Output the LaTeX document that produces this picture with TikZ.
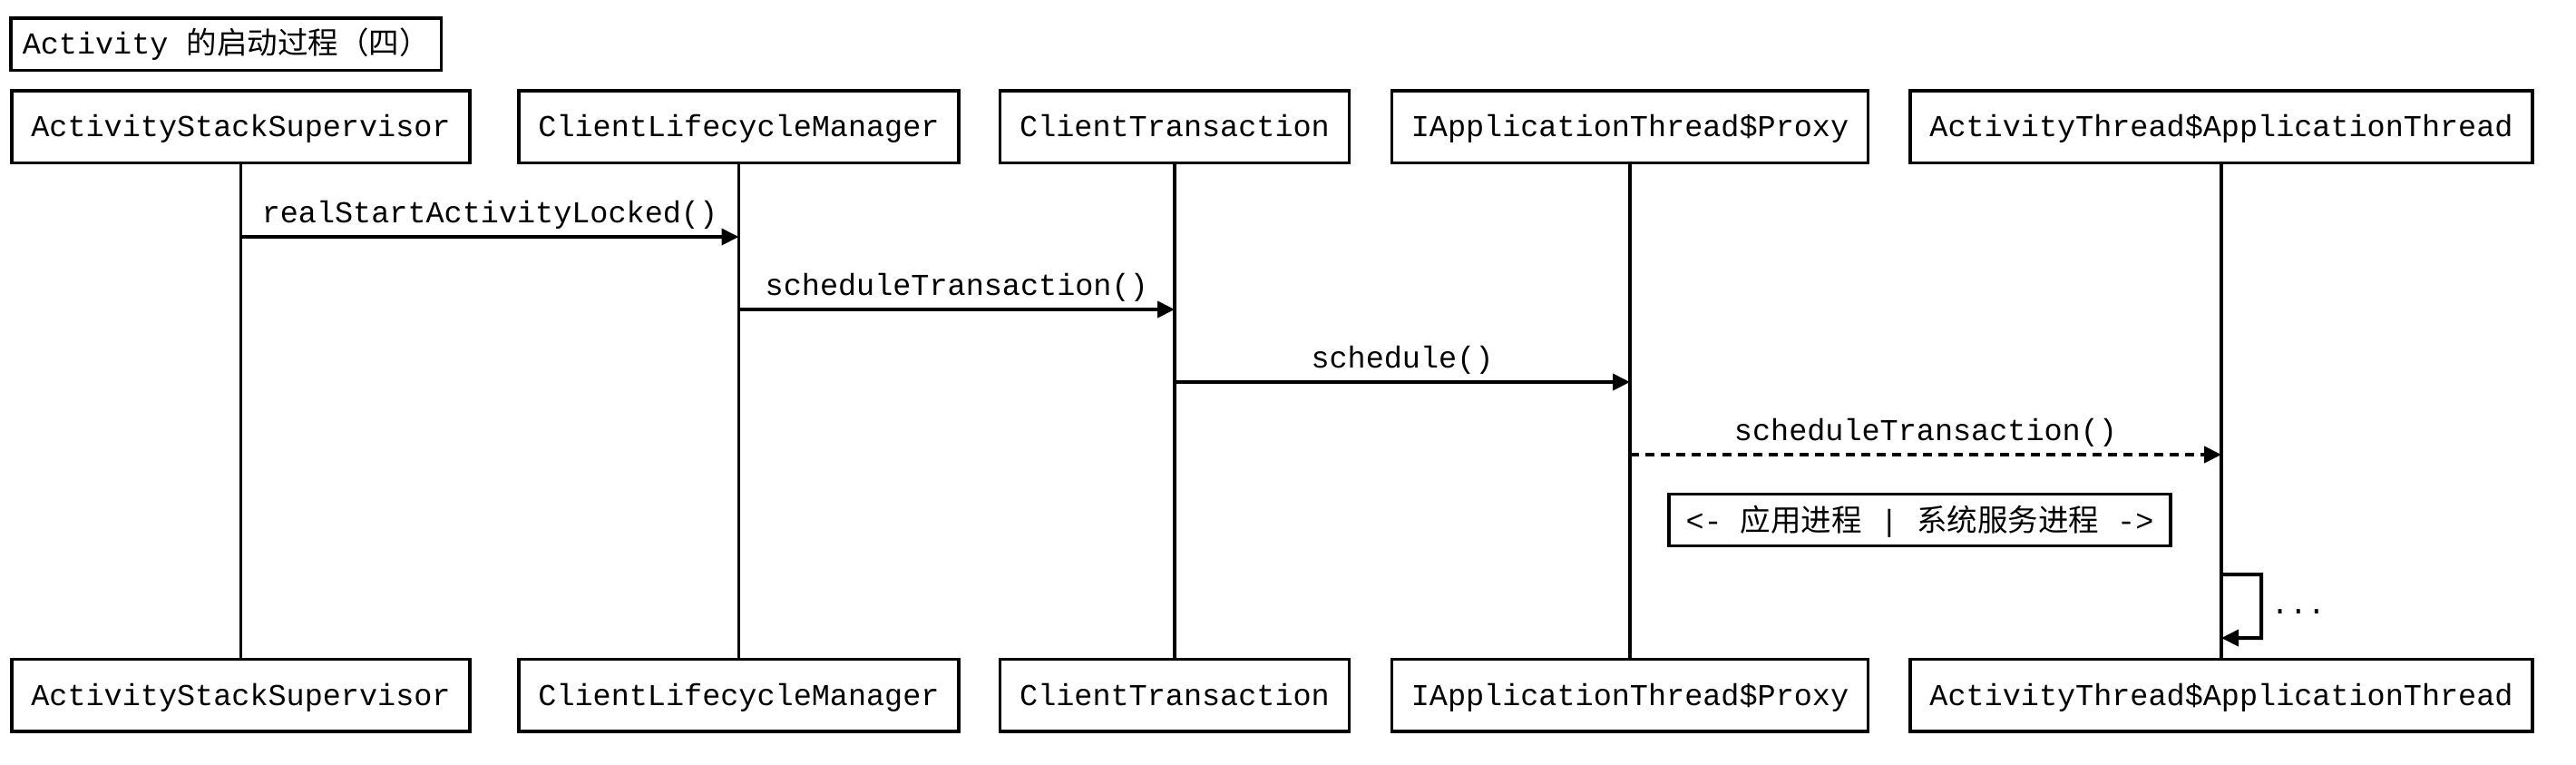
\documentclass[tikz,border=0pt]{standalone}
\usepackage{fontspec}
\setmainfont{Liberation Mono}
\newfontfamily\cjk{Noto Sans CJK SC}
\usetikzlibrary{arrows.meta}
\tikzset{actor/.style={draw, line width=0.035cm, minimum height=0.795cm, inner xsep=0.215cm, text height=6.3pt, text depth=0pt},
  lifeline/.style={line width=0.032cm},
  msg/.style={line width=0.04cm, -{Triangle[length=0.19cm, width=0.18cm]}},
  reply/.style={msg, dash pattern=on 0.1cm off 0.07cm}}

\begin{document}
\begin{tikzpicture}[font=\fontsize{9.53pt}{11pt}\selectfont]
      \useasboundingbox (0, 0) rectangle (28.4, -8.42);

      \node [draw, line width=0.035cm, minimum height=0.575cm, inner xsep=0.13cm, text height=6.3pt, text depth=0pt, anchor=west] (title) at (0.10, -0.485) {Activity {\cjk 的启动过程（四）}};

      % actors, top row
      \node [actor] (sup) at (2.655, -1.395) {ActivityStackSupervisor};
      \node [actor] (clm) at (8.145, -1.395) {ClientLifecycleManager};
      \node [actor] (ctr) at (12.95, -1.395) {ClientTransaction};
      \node [actor] (prx) at (17.97, -1.395) {IApplicationThread\$Proxy};
      \node [actor] (ath) at (24.49, -1.395) {ActivityThread\$ApplicationThread};

      % actors, bottom row
      \node [actor] (supB) at (2.655, -7.66) {ActivityStackSupervisor};
      \node [actor] (clmB) at (8.145, -7.66) {ClientLifecycleManager};
      \node [actor] (ctrB) at (12.95, -7.66) {ClientTransaction};
      \node [actor] (prxB) at (17.97, -7.66) {IApplicationThread\$Proxy};
      \node [actor] (athB) at (24.49, -7.66) {ActivityThread\$ApplicationThread};

      \draw [lifeline] (sup) -- (supB);
      \draw [lifeline] (clm) -- (clmB);
      \draw [lifeline] (ctr) -- (ctrB);
      \draw [lifeline] (prx) -- (prxB);
      \draw [lifeline] (ath) -- (athB);

      \coordinate (m1) at (0, -2.61);
      \coordinate (m2) at (0, -3.41);
      \coordinate (m3) at (0, -4.21);
      \coordinate (m4) at (0, -5.01);
      \coordinate (s1) at (0, -6.33);
      \coordinate (s2) at (0, -7.03);

      \draw [msg] (sup |- m1) -- (clm |- m1) node [midway, anchor=base, yshift=0.16cm] {realStartActivityLocked()};
      \draw [msg] (clm |- m2) -- (ctr |- m2) node [midway, anchor=base, yshift=0.16cm] {scheduleTransaction()};
      \draw [msg] (ctr |- m3) -- (prx |- m3) node [midway, anchor=base, yshift=0.16cm] {schedule()};
      \draw [reply] (prx |- m4) -- (ath |- m4) node [midway, anchor=base, yshift=0.16cm] {scheduleTransaction()};

      \node [draw, line width=0.035cm, minimum height=0.565cm, inner xsep=0.185cm, text height=8.4pt, text depth=1.15pt] (note) at (21.165, -5.73) {<- {\cjk 应用进程} | {\cjk 系统服务进程} ->};

      \draw [msg] (ath |- s1) -- ++(0.44, 0) -- ++(0, -0.70) -- (ath |- s2);
      \node [anchor=base west, inner sep=0pt] (dots) at (25.03, -6.76) {...};
    \end{tikzpicture}
\end{document}
